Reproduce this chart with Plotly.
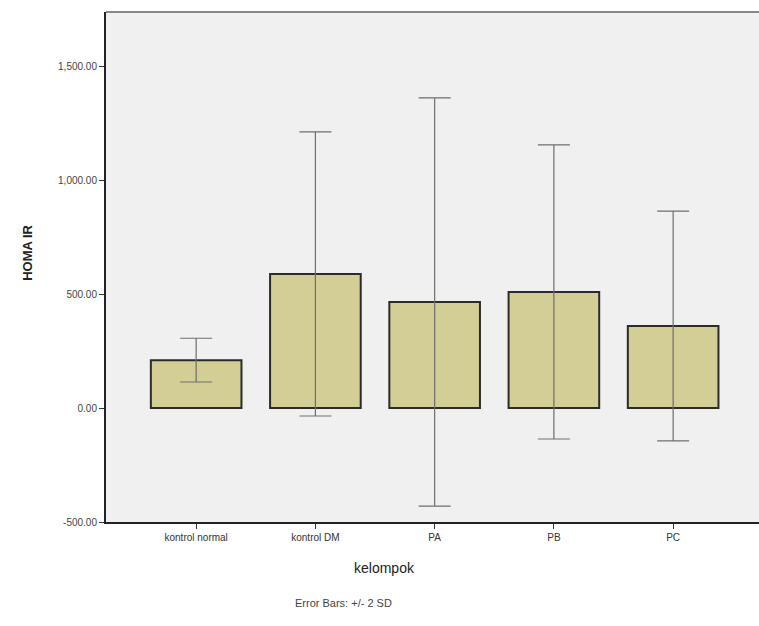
import plotly.graph_objects as go

categories = ["kontrol normal", "kontrol DM", "PA", "PB", "PC"]
means = [210, 588, 465, 509, 360]
two_sd = [96, 623, 895, 645, 504]
y_ticks = [-500, 0, 500, 1000, 1500]
y_tick_labels = ["-500.00", "0.00", "500.00", "1,000.00", "1,500.00"]

FONT = "Liberation Sans, Arial, sans-serif"

fig = go.Figure()
fig.add_trace(go.Bar(
    x=list(range(len(categories))),
    y=means,
    width=0.76,
    marker=dict(color="#D3CE96", line=dict(color="#2b2b2b", width=2)),
    error_y=dict(type="data", array=two_sd, symmetric=True,
                 color="#6e6e6e", thickness=1.2, width=16),
    hoverinfo="skip",
))

fig.update_layout(
    width=759, height=626,
    margin=dict(l=106, r=0, t=12, b=104),
    paper_bgcolor="white",
    plot_bgcolor="#F0F0F0",
    showlegend=False,
    font=dict(family=FONT, color="#333"),
    xaxis=dict(
        tickmode="array", tickvals=list(range(len(categories))), ticktext=categories,
        range=[-0.756, 4.72], showline=True, linecolor="#222", linewidth=2,
        ticks="outside", ticklen=5, tickcolor="#333", showgrid=False, zeroline=False,
        tickfont=dict(size=10, color="#333"),
    ),
    yaxis=dict(
        tickmode="array", tickvals=y_ticks, ticktext=y_tick_labels,
        range=[-500, 1737], showline=True, linecolor="#222", linewidth=2,
        ticks="outside", ticklen=5, tickcolor="#333", showgrid=False, zeroline=False,
        tickfont=dict(size=10, color="#444"),
    ),
    annotations=[
        dict(text="<b>HOMA IR</b>", xref="paper", yref="paper", x=-0.12, y=0.527,
             textangle=-90, showarrow=False, font=dict(size=13, color="#222"),
             xanchor="center", yanchor="middle"),
        dict(text="kelompok", xref="paper", yref="paper", x=0.427, y=-0.09,
             showarrow=False, font=dict(size=14, color="#222"),
             xanchor="center", yanchor="middle"),
        dict(text="Error Bars: +/- 2 SD", xref="paper", yref="paper", x=0.363, y=-0.159,
             showarrow=False, font=dict(size=11, color="#444"),
             xanchor="center", yanchor="middle"),
    ],
    shapes=[
        dict(type="line", xref="paper", yref="paper", x0=0, x1=1, y0=1, y1=1,
             line=dict(color="#888", width=2)),
    ],
)

fig.write_html("out.html")
